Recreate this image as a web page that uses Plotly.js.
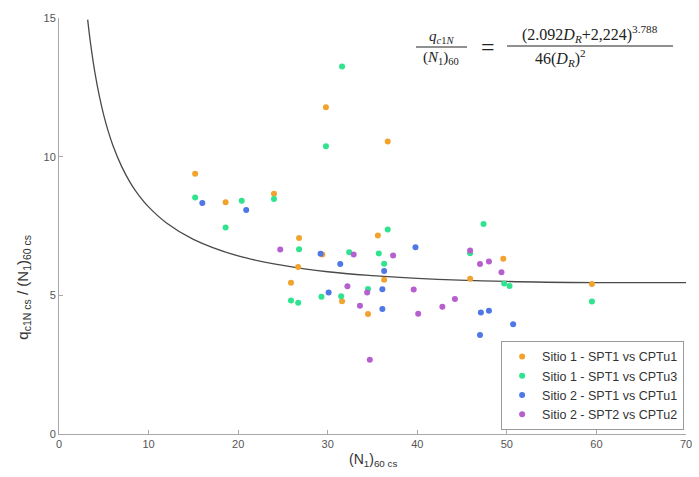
<!DOCTYPE html>
<html>
<head>
<meta charset="utf-8">
<script src="https://cdn.plot.ly/plotly-3.0.1.min.js"></script>
<style>html,body{margin:0;padding:0;background:#fff;}#chart{width:699px;height:477px;}</style>
</head>
<body>
<div id="chart"></div>
<script>
// Reference curve q_c1N/(N1)60 vs (N1)60cs
const curveN = [3.2,3.5,4,4.5,5,5.5,6,7,8,9,10,12,15,20,25,30,35,40,50,60,70];
const curveQ = [14.94,14.14,13.05,12.19,11.49,10.91,10.42,9.64,9.04,8.57,8.19,7.61,7.02,6.42,6.08,5.85,5.71,5.61,5.50,5.46,5.46];

const seriesNames = ["Sitio 1 - SPT1 vs CPTu1","Sitio 1 - SPT1 vs CPTu3","Sitio 2 - SPT1 vs CPTu1","Sitio 2 - SPT2 vs CPTu2"];

const s1u1X = [15.2,18.6,24.0,29.8,36.7,26.8,26.7,25.9,29.4,35.6,36.3,31.6,34.5,45.9,49.6,59.5];
const s1u1Y = [9.38,8.36,8.66,11.78,10.55,7.07,6.02,5.45,6.47,7.16,5.56,4.79,4.33,5.60,6.32,5.41];

const s1u3X = [15.2,18.6,20.4,24.0,29.8,31.6,26.8,25.9,26.7,29.3,31.5,32.4,34.5,35.7,36.3,36.7,45.9,47.4,49.7,50.3,59.5];
const s1u3Y = [8.53,7.45,8.41,8.47,10.38,13.25,6.66,4.81,4.73,4.95,4.97,6.55,5.23,6.51,6.14,7.37,6.52,7.57,5.43,5.34,4.78];

const s2u1X = [16.0,20.9,29.2,31.4,30.1,36.1,36.1,36.3,39.8,47.1,48.0,50.7,47.0];
const s2u1Y = [8.33,8.08,6.50,6.13,5.10,5.22,4.51,5.88,6.73,4.38,4.44,3.96,3.57];

const s2u2X = [24.7,32.9,37.3,32.2,33.6,34.4,34.7,39.6,40.1,42.8,44.2,45.9,47.0,48.0,49.4];
const s2u2Y = [6.65,6.47,6.44,5.33,4.62,5.10,2.68,5.21,4.34,4.59,4.87,6.62,6.13,6.22,5.83];

const xTicks = [0,10,20,30,40,50,60,70];
const yTicks = [0,5,10,15];

const colors = ["#f2a32e","#2fe38f","#4f78e6","#b660cf"];
const xs = [s1u1X,s1u3X,s2u1X,s2u2X];
const ys = [s1u1Y,s1u3Y,s2u1Y,s2u2Y];

const traces = [{
  x: curveN, y: curveQ, type: "scatter", mode: "lines",
  line: {color: "#4a4a4a", width: 1.3, shape: "spline", smoothing: 1},
  showlegend: false, hoverinfo: "skip"
}];
for (let i = 0; i < 4; i++) {
  traces.push({
    x: xs[i], y: ys[i], type: "scatter", mode: "markers", name: seriesNames[i],
    marker: {color: colors[i], size: 6}
  });
}

const fontFam = "Liberation Sans, Arial, sans-serif";
const serif = "Liberation Serif, DejaVu Serif, serif";

const layout = {
  width: 699, height: 477,
  margin: {l: 59, r: 13, t: 18, b: 43},
  paper_bgcolor: "#fff", plot_bgcolor: "#fff",
  font: {family: fontFam, color: "#444", size: 11},
  showlegend: true,
  legend: {
    x: 0.997, xanchor: "right", y: 0.01, yanchor: "bottom",
    bordercolor: "#9a9a9a", borderwidth: 1, bgcolor: "#fff",
    font: {family: fontFam, size: 12.5, color: "#333"},
    tracegroupgap: 0
  },
  xaxis: {
    range: [0, 70], tickvals: xTicks, ticktext: xTicks.map(String),
    showgrid: false, zeroline: false, showline: true, linecolor: "#a8a8a8", linewidth: 1,
    ticks: "inside", ticklen: 4, tickcolor: "#a8a8a8",
    tickfont: {size: 11, color: "#555"}
  },
  yaxis: {
    range: [0, 15], tickvals: yTicks, ticktext: yTicks.map(String),
    showgrid: false, zeroline: false, showline: true, linecolor: "#a8a8a8", linewidth: 1,
    ticks: "inside", ticklen: 4, tickcolor: "#a8a8a8",
    tickfont: {size: 11, color: "#555"}
  },
  annotations: [
    {xref: "paper", yref: "paper", x: -0.058, y: (434-287)/416, xanchor: "center", yanchor: "middle",
     textangle: -90, showarrow: false,
     text: "q<sub>c1N cs</sub> / (N<sub>1</sub>)<sub>60 cs</sub>",
     font: {family: fontFam, size: 15, color: "#333"}},
    {xref: "paper", yref: "paper", x: 0.5, y: (434-460)/416, xanchor: "center", yanchor: "middle",
     showarrow: false, text: "(N<sub>1</sub>)<sub>60 cs</sub>",
     font: {family: fontFam, size: 14, color: "#333"}},
    // equation
    {xref: "paper", yref: "paper", x: (441-59)/627, y: (434-37)/416, xanchor: "center", yanchor: "middle",
     showarrow: false, text: "<i>q</i><sub><i>c</i>1<i>N</i></sub>", font: {family: serif, size: 15, color: "#222"}},
    {xref: "paper", yref: "paper", x: (441-59)/627, y: (434-58)/416, xanchor: "center", yanchor: "middle",
     showarrow: false, text: "(<i>N</i><sub>1</sub>)<sub>60</sub>", font: {family: serif, size: 15, color: "#222"}},
    {xref: "paper", yref: "paper", x: (488-59)/627, y: (434-47)/416, xanchor: "center", yanchor: "middle",
     showarrow: false, text: "=", font: {family: serif, size: 24, color: "#222"}},
    {xref: "paper", yref: "paper", x: (590-59)/627, y: (434-34)/416, xanchor: "center", yanchor: "middle",
     showarrow: false, text: "(2.092<i>D</i><sub><i>R</i></sub>+2,224)<sup>3.788</sup>", font: {family: serif, size: 16, color: "#222"}},
    {xref: "paper", yref: "paper", x: (560-59)/627, y: (434-58)/416, xanchor: "center", yanchor: "middle",
     showarrow: false, text: "46(<i>D</i><sub><i>R</i></sub>)<sup>2</sup>", font: {family: serif, size: 16, color: "#222"}}
  ],
  shapes: [
    {type: "line", xref: "paper", yref: "paper", x0: (416-59)/627, x1: (467-59)/627, y0: (434-47)/416, y1: (434-47)/416,
     line: {color: "#222", width: 1}},
    {type: "line", xref: "paper", yref: "paper", x0: (507-59)/627, x1: (673-59)/627, y0: (434-46)/416, y1: (434-46)/416,
     line: {color: "#222", width: 1.2}}
  ]
};

Plotly.newPlot("chart", traces, layout, {displayModeBar: false, staticPlot: true});
</script>
</body>
</html>
